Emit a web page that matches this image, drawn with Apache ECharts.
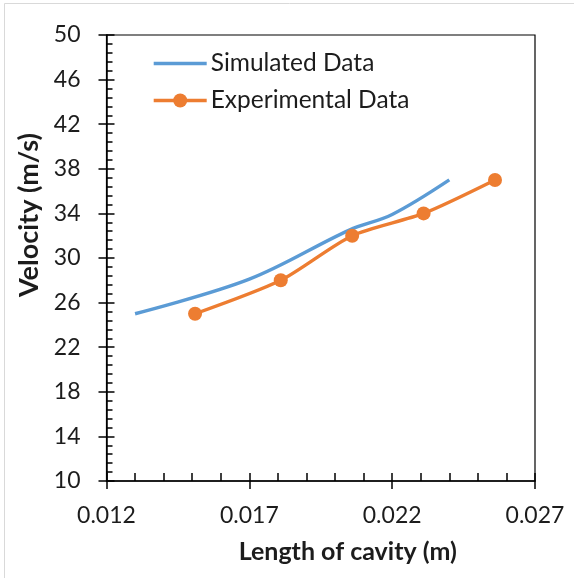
<!DOCTYPE html>
<html>
<head>
<meta charset="utf-8">
<script src="https://cdn.jsdelivr.net/npm/echarts@6/dist/echarts.min.js"></script>
<style>
html,body{margin:0;padding:0;background:#fff;}
#c{width:574px;height:578px;}
</style>
</head>
<body>
<div id="c"></div>
<script>
const simX = [0.013, 0.017, 0.0205, 0.022, 0.024];
const simY = [25, 28.1, 32.5, 33.9, 37];
const expX = [0.0151, 0.0181, 0.0206, 0.0231, 0.0256];
const expY = [25, 28, 32, 34, 37];
const xTicks = [0.012, 0.017, 0.022, 0.027];
const yTicks = [10, 14, 18, 22, 26, 30, 34, 38, 42, 46, 50];

const FONT = 'Lato';
const TXT = '#1c1c1c';
const BLUE = '#5B9BD5';
const ORANGE = '#ED7D31';
const chart = echarts.init(document.getElementById('c'), null, {renderer: 'canvas'});

const gridPos = {left: 106.5, right: 39, top: 35, bottom: 97};

chart.setOption({
  animation: false,
  backgroundColor: '#fff',
  graphic: [{
    type: 'rect', left: 2, top: 1, shape: {x: 0, y: 0, width: 570, height: 575},
    style: {fill: 'none', stroke: '#d9d9d9', lineWidth: 1}, silent: true
  }],
  grid: Object.assign({show: true, borderColor: '#000', borderWidth: 1.2, backgroundColor: 'transparent'}, gridPos),
  legend: {
    left: 152, top: 51, padding: 0, orient: 'vertical', itemGap: 12,
    itemWidth: 53, itemHeight: 17.5,
    textStyle: {fontFamily: FONT, fontSize: 24.5, color: TXT, padding: [0, 0, 0, -1]},
    data: [
      {name: 'Simulated Data', itemStyle: {opacity: 0}, lineStyle: {width: 3.4, color: BLUE}},
      {name: 'Experimental Data', lineStyle: {width: 3.4, color: ORANGE}}
    ]
  },
  xAxis: [{
    type: 'value', min: xTicks[0], max: xTicks[xTicks.length - 1], interval: 0.005,
    axisLine: {onZero: false, lineStyle: {color: '#000', width: 1.5}},
    axisTick: {show: true, inside: false, length: 8, lineStyle: {color: '#000', width: 1.5}},
    minorTick: {show: false},
    splitLine: {show: false},
    axisLabel: {fontFamily: FONT, fontSize: 23, color: TXT, margin: 23, formatter: v => v.toFixed(3)},
    name: 'Length of cavity (m)', nameLocation: 'middle', nameGap: 58,
    nameTextStyle: {fontFamily: FONT, fontSize: 25, fontWeight: 'bold', color: TXT, padding: [0, 0, 0, 54]}
  }, {
    type: 'value', position: 'bottom', min: xTicks[0], max: xTicks[xTicks.length - 1], interval: 0.005,
    axisLine: {show: false},
    axisTick: {show: true, inside: true, length: 8, lineStyle: {color: '#000', width: 1.5}},
    minorTick: {show: true, splitNumber: 5, length: 8, lineStyle: {color: '#000', width: 1.5}},
    splitLine: {show: false}, axisLabel: {show: false}
  }],
  yAxis: [{
    type: 'value', min: yTicks[0], max: yTicks[yTicks.length - 1], interval: 4,
    axisLine: {show: true, onZero: false, lineStyle: {color: '#000', width: 1.5}},
    axisTick: {show: true, inside: false, length: 8, lineStyle: {color: '#000', width: 1.5}},
    splitLine: {show: false},
    axisLabel: {fontFamily: FONT, fontSize: 23, color: TXT, margin: 26},
    name: 'Velocity (m/s)', nameLocation: 'middle', nameGap: 61,
    nameTextStyle: {fontFamily: FONT, fontSize: 27, fontWeight: 'bold', color: TXT, padding: [0, 0, 0, 86]}
  }, {
    type: 'value', position: 'left', offset: 0, min: yTicks[0], max: yTicks[yTicks.length - 1], interval: 4,
    axisLine: {show: false},
    axisTick: {show: true, inside: true, length: 8, lineStyle: {color: '#000', width: 1.5}},
    minorTick: {show: true, splitNumber: 5, length: 6, lineStyle: {color: '#000', width: 1.5}},
    splitLine: {show: false}, axisLabel: {show: false}
  }],
  series: [{
    name: 'Simulated Data', type: 'line', smooth: 0.35,
    data: simX.map((x, i) => [x, simY[i]]),
    showSymbol: false, symbol: 'none',
    lineStyle: {color: BLUE, width: 3.4},
    itemStyle: {color: BLUE}
  }, {
    name: 'Experimental Data', type: 'line', smooth: 0.25,
    data: expX.map((x, i) => [x, expY[i]]),
    symbol: 'circle', symbolSize: 14,
    lineStyle: {color: ORANGE, width: 3.4},
    itemStyle: {color: ORANGE}
  }]
});
</script>
</body>
</html>
